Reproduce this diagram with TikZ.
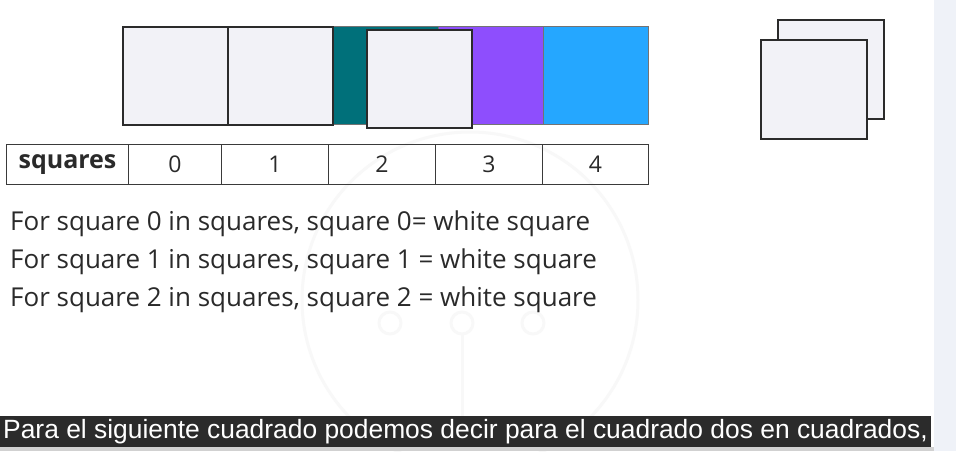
\documentclass[tikz,border=0pt]{standalone}
\usepackage{fontspec}
\setmainfont{Open Sans}
\newfontfamily\capfont{Liberation Sans}
\definecolor{sqfill}{HTML}{F2F2F7}
\definecolor{sqborder}{HTML}{2B2B2B}
\definecolor{tealc}{HTML}{00707A}
\definecolor{purplec}{HTML}{8E4EFD}
\definecolor{bluec}{HTML}{25A7FF}
\definecolor{tabline}{HTML}{3A3A3A}
\definecolor{textc}{HTML}{2A2A2A}
\definecolor{panel}{HTML}{EFF2F8}
\definecolor{capbg}{HTML}{2B2B2B}
\definecolor{wmc}{HTML}{F8F8F8}
\begin{document}
\begin{tikzpicture}[x=1pt,y=-1pt,
  sq/.style={draw=sqborder, fill=sqfill, line width=2.2pt, minimum width=105pt, minimum height=98pt, inner sep=0pt, anchor=north west},
  blk/.style={draw=black!55, line width=0.8pt, minimum width=105.2pt, minimum height=98pt, inner sep=0pt, anchor=north west},
  cell/.style={draw=tabline, line width=1pt, minimum height=40pt, inner sep=0pt, anchor=north west, text=textc, font=\fontsize{23}{26}\selectfont},
  line/.style={anchor=base west, inner sep=0pt, text=textc, font=\fontsize{26}{30}\selectfont},
  wm/.style={draw=wmc, line width=3pt}]
\useasboundingbox (0,0) rectangle (956,451);
\fill[white] (0,0) rectangle (956,451);
\fill[panel] (934,0) rectangle (956,451);
% faint watermark
\draw[wm] (470,300) circle (168);
\draw[wm] (390,323) circle (11);
\draw[wm] (462,323) circle (11);
\draw[wm] (533,323) circle (11);
\draw[wm] (462,334) -- (462,420);
% colour bar
\node[blk, fill=tealc] (c2) at (332.4,26) {};
\node[blk, fill=purplec] (c3) at (437.6,26) {};
\node[blk, fill=bluec] (c4) at (542.8,26) {};
\node[sq] (s0) at (122,26) {};
\node[sq] (s1) at (227.2,26) {};
\node[sq] (s2) at (366,29) {};
% stacked squares
\node[sq, minimum width=106pt, minimum height=99pt] (b1) at (777,19) {};
\node[sq, minimum width=106pt, minimum height=99pt] (b0) at (759.5,39) {};
% table
\node[cell, minimum width=122pt, font=\fontsize{25}{28}\selectfont\bfseries] (th) at (6,144) {squares};
\node[cell, minimum width=93pt] (t0) at (128,144) {0};
\node[cell, minimum width=107pt] (t1) at (221,144) {1};
\node[cell, minimum width=107pt] (t2) at (328,144) {2};
\node[cell, minimum width=107pt] (t3) at (435,144) {3};
\node[cell, minimum width=106pt] (t4) at (542,144) {4};
% text lines
\node[line] (l0) at (10,230) {For square 0 in squares, square 0= white square};
\node[line] (l1) at (10,268) {For square 1 in squares, square 1 = white square};
\node[line] (l2) at (10,306) {For square 2 in squares, square 2 = white square};
% caption
\fill[capbg] (0,416) rectangle (931,447);
\fill[black!18] (0,447) rectangle (934,451);
\node[anchor=base west, inner sep=0pt, text=white, font=\capfont\fontsize{26.4}{30}\selectfont] (cap) at (3,438) {Para el siguiente cuadrado podemos decir para el cuadrado dos en cuadrados,};
\end{tikzpicture}
\end{document}
